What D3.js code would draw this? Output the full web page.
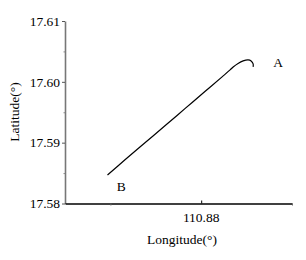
<!DOCTYPE html>
<html><head><meta charset="utf-8">
<script src="https://cdn.jsdelivr.net/npm/d3@7"></script>
<style>body{margin:0;background:#fff}svg{display:block}</style>
</head><body>
<script>
const lon = [110.87484, 110.87582, 110.87692, 110.87802, 110.87912, 110.88022, 110.88115, 110.88159, 110.88176, 110.88203, 110.88231, 110.88258, 110.88275, 110.88286, 110.88286];
const lat = [17.58469, 17.58722, 17.59002, 17.59281, 17.59563, 17.59844, 17.60082, 17.60196, 17.60245, 17.60303, 17.60344, 17.60360, 17.60344, 17.60294, 17.60245];
const xMajor = [110.88], xMinor = [110.875, 110.885];
const yMajor = [17.58, 17.59, 17.60, 17.61], yMinor = [17.585, 17.595, 17.605];
const labels = [{t:"A", x:110.88423, y:17.60311}, {t:"B", x:110.87560, y:17.58287}];
</script>
<script>
const W=306,H=260;
const svg=d3.select("body").append("svg").attr("width",W).attr("height",H);
const x=d3.scaleLinear().domain([110.8725,110.885]).range([65,292]);
const y=d3.scaleLinear().domain([17.58,17.61]).range([203.5,21]);
const font="Liberation Serif, Times New Roman, serif";
const fs=13.5;
// y axis
const ya=svg.append("g").attr("transform","translate(65,0)")
 .call(d3.axisLeft(y).tickValues(yMajor).tickFormat(d3.format(".2f")).tickSize(3).tickSizeOuter(0));
ya.select(".domain").attr("stroke","#777").attr("stroke-width",1.6);
ya.selectAll(".tick line").attr("stroke","#555");
ya.selectAll("text").attr("font-family",font).attr("font-size",fs).attr("fill","#000").attr("x",-5);
svg.append("g").attr("transform","translate(65,0)")
 .call(d3.axisLeft(y).tickValues(yMinor).tickFormat("").tickSize(1.5)).call(g=>g.select(".domain").remove())
 .selectAll("line").attr("stroke","#888");
// x axis
const xa=svg.append("g").attr("transform","translate(0,203.5)")
 .call(d3.axisTop(x).tickValues(xMajor).tickFormat("").tickSize(3).tickSizeOuter(0));
xa.select(".domain").attr("stroke","#000").attr("stroke-width",1.3);
svg.append("g").attr("transform","translate(0,203.5)")
 .call(d3.axisBottom(x).tickValues(xMinor).tickFormat("").tickSize(2)).call(g=>g.select(".domain").remove())
 .selectAll("line").attr("stroke","#666");
svg.selectAll(null).data(xMajor).enter().append("text")
 .attr("x",d=>x(d)).attr("y",222).attr("text-anchor","middle")
 .attr("font-family",font).attr("font-size",fs).text(d=>d3.format(".2f")(d));
// axis titles
svg.append("text").attr("x",182).attr("y",244).attr("text-anchor","middle")
 .attr("font-family",font).attr("font-size",fs).text("Longitude(°)");
svg.append("text").attr("transform","translate(19,112) rotate(-90)").attr("text-anchor","middle")
 .attr("font-family",font).attr("font-size",fs).text("Latitude(°)");
// track
const pts=lon.map((d,i)=>[d,lat[i]]);
svg.append("path").datum(pts).attr("fill","none").attr("stroke","#000").attr("stroke-width",1.2)
 .attr("d",d3.line().x(d=>x(d[0])).y(d=>y(d[1])).curve(d3.curveCatmullRom));
svg.selectAll(null).data(labels).enter().append("text")
 .attr("x",d=>x(d.x)).attr("y",d=>y(d.y)).attr("text-anchor","middle").attr("dominant-baseline","central")
 .attr("font-family",font).attr("font-size",fs).text(d=>d.t);
</script>
</body></html>
